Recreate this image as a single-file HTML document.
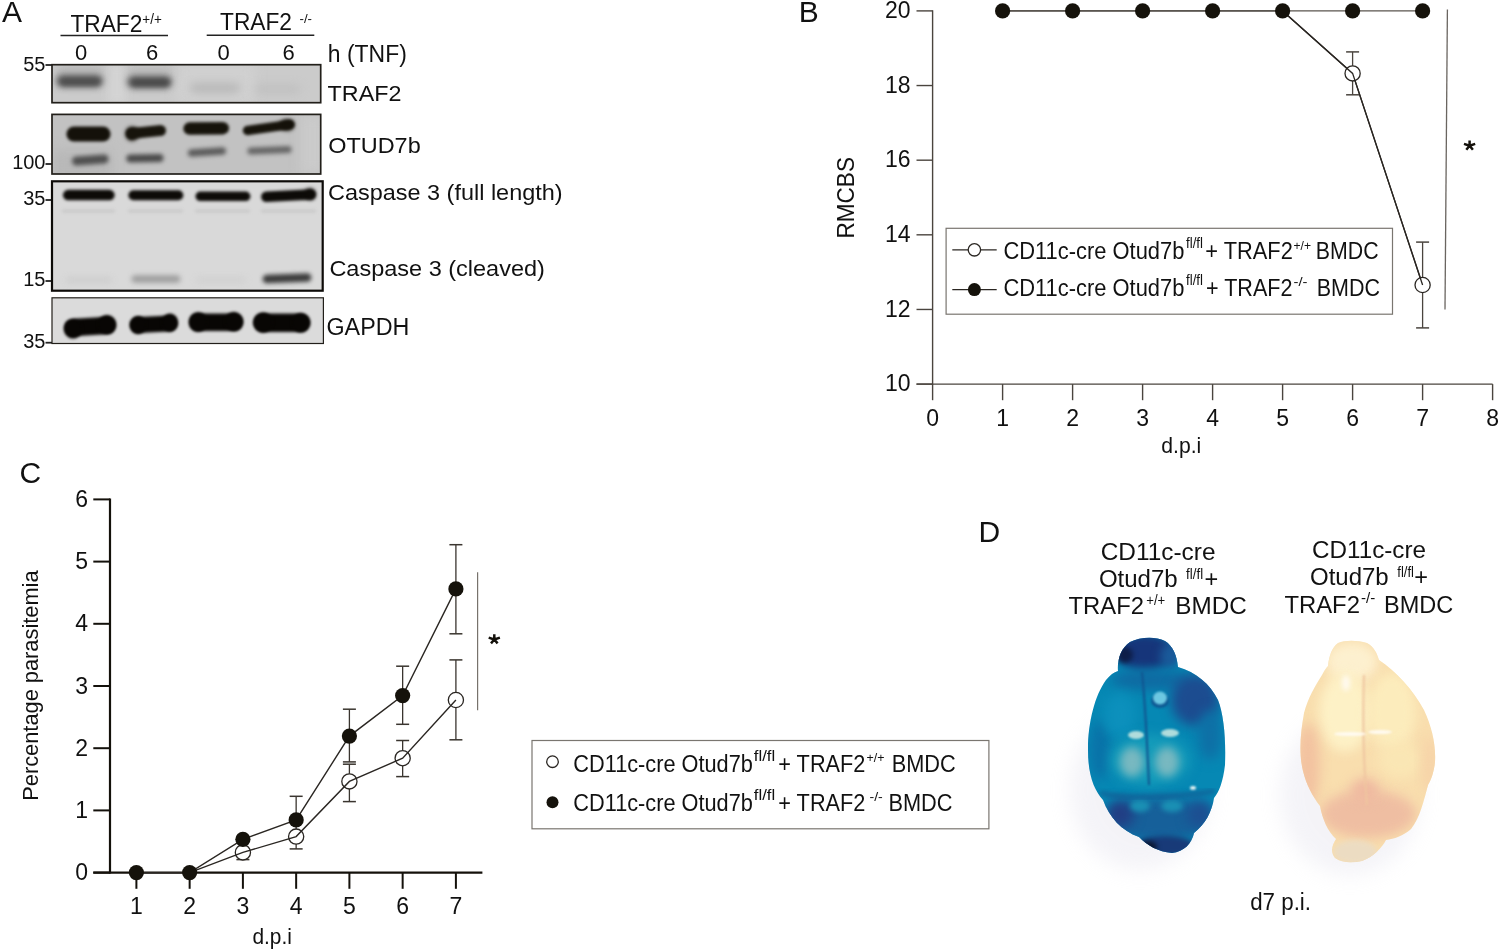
<!DOCTYPE html>
<html><head><meta charset="utf-8"><style>
html,body{margin:0;padding:0;background:#fff;width:1500px;height:951px;overflow:hidden}
svg{display:block;will-change:transform}
text{font-family:"Liberation Sans", sans-serif}
</style></head><body>
<svg width="1500" height="951" viewBox="0 0 1500 951">
<defs>
<filter id="b15" x="-50%" y="-100%" width="200%" height="300%" color-interpolation-filters="sRGB"><feGaussianBlur stdDeviation="1.5"/></filter>
<filter id="b20" x="-50%" y="-100%" width="200%" height="300%" color-interpolation-filters="sRGB"><feGaussianBlur stdDeviation="2.0"/></filter>
<filter id="b22" x="-50%" y="-100%" width="200%" height="300%" color-interpolation-filters="sRGB"><feGaussianBlur stdDeviation="2.2"/></filter>
<filter id="b23" x="-50%" y="-100%" width="200%" height="300%" color-interpolation-filters="sRGB"><feGaussianBlur stdDeviation="2.3"/></filter>
<filter id="b25" x="-50%" y="-100%" width="200%" height="300%" color-interpolation-filters="sRGB"><feGaussianBlur stdDeviation="2.5"/></filter>
<filter id="b30" x="-50%" y="-100%" width="200%" height="300%" color-interpolation-filters="sRGB"><feGaussianBlur stdDeviation="3.0"/></filter>
<filter id="b40" x="-50%" y="-100%" width="200%" height="300%" color-interpolation-filters="sRGB"><feGaussianBlur stdDeviation="4.0"/></filter>
<filter id="b60" x="-50%" y="-100%" width="200%" height="300%" color-interpolation-filters="sRGB"><feGaussianBlur stdDeviation="6.0"/></filter>
<clipPath id="c1"><rect x="52" y="64.7" width="268.7" height="38"/></clipPath>
<clipPath id="c2"><rect x="52" y="114.4" width="268.7" height="59.6"/></clipPath>
<clipPath id="c3"><rect x="52" y="181.3" width="270.7" height="109.4"/></clipPath>
<clipPath id="c4"><rect x="52" y="297.8" width="271.4" height="45.7"/></clipPath>
</defs>
<rect width="1500" height="951" fill="#fff"/>
<text x="2" y="22.4" font-size="30" text-anchor="start" fill="#111" >A</text>
<text x="70.4" y="32.4" font-size="23" text-anchor="start" fill="#111" textLength="72" lengthAdjust="spacingAndGlyphs" >TRAF2</text>
<text x="142.3" y="24" font-size="14" text-anchor="start" fill="#111" textLength="19.5" lengthAdjust="spacingAndGlyphs" >+/+</text>
<line x1="60.5" y1="35.5" x2="168" y2="35.5" stroke="#222" stroke-width="1.6"/>
<text x="220" y="29.8" font-size="23" text-anchor="start" fill="#111" textLength="72" lengthAdjust="spacingAndGlyphs" >TRAF2</text>
<text x="299.5" y="22.5" font-size="13.5" text-anchor="start" fill="#111" textLength="12.5" lengthAdjust="spacingAndGlyphs" >-/-</text>
<line x1="206.7" y1="35.3" x2="314.3" y2="35.3" stroke="#222" stroke-width="1.6"/>
<text x="81" y="59.5" font-size="22" text-anchor="middle" fill="#111" >0</text>
<text x="152" y="59.5" font-size="22" text-anchor="middle" fill="#111" >6</text>
<text x="223.7" y="59.5" font-size="22" text-anchor="middle" fill="#111" >0</text>
<text x="288.5" y="59.5" font-size="22" text-anchor="middle" fill="#111" >6</text>
<text x="327.8" y="61.5" font-size="23" text-anchor="start" fill="#111" textLength="79" lengthAdjust="spacingAndGlyphs" >h (TNF)</text>
<text x="45.5" y="71" font-size="20" text-anchor="end" fill="#111" >55</text>
<line x1="45.5" y1="65" x2="52" y2="65" stroke="#222" stroke-width="1.8"/>
<text x="45.5" y="168.7" font-size="20" text-anchor="end" fill="#111" >100</text>
<line x1="45.5" y1="164" x2="52" y2="164" stroke="#222" stroke-width="1.8"/>
<text x="45.5" y="205" font-size="20" text-anchor="end" fill="#111" >35</text>
<line x1="45.5" y1="200" x2="52" y2="200" stroke="#222" stroke-width="1.8"/>
<text x="45.5" y="286" font-size="20" text-anchor="end" fill="#111" >15</text>
<line x1="45.5" y1="281" x2="52" y2="281" stroke="#222" stroke-width="1.8"/>
<text x="45.5" y="347.5" font-size="20" text-anchor="end" fill="#111" >35</text>
<line x1="45.5" y1="342.7" x2="52" y2="342.7" stroke="#222" stroke-width="1.8"/>
<g clip-path="url(#c1)">
<rect x="52" y="64.7" width="268.7" height="38" fill="#cbcbcb"/>
<rect x="108" y="64" width="18" height="40" fill="#d4d4d4" filter="url(#b40)"/>
<rect x="176" y="64" width="80" height="40" fill="#d0d0d0" filter="url(#b60)"/>
<rect x="57" y="62" width="46" height="22" fill="#b9b9b9" opacity="0.8" filter="url(#b40)"/>
<rect x="128" y="62" width="44" height="22" fill="#bcbcbc" opacity="0.8" filter="url(#b40)"/>
<path d="M62.5,74.5 L96.5,74.5 A6.5,6.5 0 0 1 96.5,87.5 L62.5,87.5 A6.5,6.5 0 0 1 62.5,74.5 Z" fill="#6a6a6a" opacity="1" filter="url(#b30)"/>
<path d="M63.5,78.0 L96.5,78.0 A3.5,3.5 0 0 1 96.5,85.0 L63.5,85.0 A3.5,3.5 0 0 1 63.5,78.0 Z" fill="#4c4c4c" opacity="1" filter="url(#b25)"/>
<path d="M133.5,75.5 L165.5,75.5 A6.5,6.5 0 0 1 165.5,88.5 L133.5,88.5 A6.5,6.5 0 0 1 133.5,75.5 Z" fill="#686868" opacity="1" filter="url(#b30)"/>
<path d="M134.5,79.0 L165.5,79.0 A3.5,3.5 0 0 1 165.5,86.0 L134.5,86.0 A3.5,3.5 0 0 1 134.5,79.0 Z" fill="#484848" opacity="1" filter="url(#b25)"/>
<path d="M195.0,83.0 L235.0,83.0 A5.0,5.0 0 0 1 235.0,93.0 L195.0,93.0 A5.0,5.0 0 0 1 195.0,83.0 Z" fill="#b8b8b8" opacity="1" filter="url(#b40)"/>
<path d="M259.5,84.5 L295.5,84.5 A4.5,4.5 0 0 1 295.5,93.5 L259.5,93.5 A4.5,4.5 0 0 1 259.5,84.5 Z" fill="#c0c0c0" opacity="1" filter="url(#b40)"/>
</g>
<rect x="52" y="64.7" width="268.7" height="38" fill="none" stroke="#221f1a" stroke-width="1.7"/>
<g clip-path="url(#c2)">
<rect x="52" y="114.4" width="268.7" height="59.6" fill="#c2c2c2"/>
<rect x="52" y="150" width="60" height="30" fill="#b8b8b8" filter="url(#b60)"/>
<rect x="300" y="114" width="25" height="60" fill="#cacaca" filter="url(#b60)"/>
<path d="M73.9,126.5 L103.1,126.5 A7.5,7.5 0 0 1 103.1,141.5 L73.9,141.5 A7.5,7.5 0 0 1 73.9,126.5 Z" fill="#14110a" opacity="1" filter="url(#b15)"/>
<ellipse cx="132" cy="133.7" rx="6.5" ry="7" fill="#14110a" filter="url(#b20)"/>
<path d="M131.5,128.0 L160.5,125.0 A5.5,5.5 0 0 1 160.5,136.0 L131.5,139.0 A5.5,5.5 0 0 1 131.5,128.0 Z" fill="#17140c" opacity="1" filter="url(#b15)"/>
<path d="M189.55,122.35 L222.75,121.94999999999999 A6.25,6.25 0 0 1 222.75,134.45 L189.55,134.85 A6.25,6.25 0 0 1 189.55,122.35 Z" fill="#16130b" opacity="1" filter="url(#b15)"/>
<path d="M247.55,125.75 L289.85,119.75 A4.75,4.75 0 0 1 289.85,129.25 L247.55,135.25 A4.75,4.75 0 0 1 247.55,125.75 Z" fill="#16130b" opacity="1" filter="url(#b15)"/>
<ellipse cx="287" cy="125" rx="7" ry="5.5" fill="#14110a" filter="url(#b20)"/>
<path d="M76.5,156.5 L104.1,154.5 A4.5,4.5 0 0 1 104.1,163.5 L76.5,165.5 A4.5,4.5 0 0 1 76.5,156.5 Z" fill="#505050" opacity="1" filter="url(#b22)"/>
<path d="M130.3,154.6 L159.5,154.0 A4.0,4.0 0 0 1 159.5,162.0 L130.3,162.6 A4.0,4.0 0 0 1 130.3,154.6 Z" fill="#4a4a4a" opacity="1" filter="url(#b22)"/>
<path d="M191.65,149.25 L222.25,147.25 A3.75,3.75 0 0 1 222.25,154.75 L191.65,156.75 A3.75,3.75 0 0 1 191.65,149.25 Z" fill="#5c5c5c" opacity="1" filter="url(#b22)"/>
<path d="M250.9,147.5 L288.1,146.0 A3.5,3.5 0 0 1 288.1,153.0 L250.9,154.5 A3.5,3.5 0 0 1 250.9,147.5 Z" fill="#666" opacity="1" filter="url(#b22)"/>
</g>
<rect x="52" y="114.4" width="268.7" height="59.6" fill="none" stroke="#221f1a" stroke-width="1.7"/>
<g clip-path="url(#c3)">
<rect x="52" y="181.3" width="270.7" height="109.4" fill="#d9d9d9"/>
<path d="M68.15,189.85 L109.45,189.85 A5.25,5.25 0 0 1 109.45,200.35 L68.15,200.35 A5.25,5.25 0 0 1 68.15,189.85 Z" fill="#0d0b08" opacity="1" filter="url(#b15)"/>
<path d="M133.4,190.3 L178.3,190.3 A5.0,5.0 0 0 1 178.3,200.3 L133.4,200.3 A5.0,5.0 0 0 1 133.4,190.3 Z" fill="#0d0b08" opacity="1" filter="url(#b15)"/>
<path d="M200.25,191.55 L245.65,191.55 A4.75,4.75 0 0 1 245.65,201.05 L200.25,201.05 A4.75,4.75 0 0 1 200.25,191.55 Z" fill="#0d0b08" opacity="1" filter="url(#b15)"/>
<path d="M266.35,191.55 L310.75,189.25 A5.25,5.25 0 0 1 310.75,199.75 L266.35,202.05 A5.25,5.25 0 0 1 266.35,191.55 Z" fill="#0d0b08" opacity="1" filter="url(#b15)"/>
<ellipse cx="310" cy="194" rx="5" ry="5.5" fill="#0d0b08" filter="url(#b20)"/>
<path d="M63.5,209.5 L113.5,209.5 A1.5,1.5 0 0 1 113.5,212.5 L63.5,212.5 A1.5,1.5 0 0 1 63.5,209.5 Z" fill="#c8c8c8" opacity="1" filter="url(#b15)"/>
<path d="M129.5,209.5 L181.5,209.5 A1.5,1.5 0 0 1 181.5,212.5 L129.5,212.5 A1.5,1.5 0 0 1 129.5,209.5 Z" fill="#c8c8c8" opacity="1" filter="url(#b15)"/>
<path d="M196.5,209.5 L248.5,209.5 A1.5,1.5 0 0 1 248.5,212.5 L196.5,212.5 A1.5,1.5 0 0 1 196.5,209.5 Z" fill="#c8c8c8" opacity="1" filter="url(#b15)"/>
<path d="M262.5,209.5 L314.5,209.5 A1.5,1.5 0 0 1 314.5,212.5 L262.5,212.5 A1.5,1.5 0 0 1 262.5,209.5 Z" fill="#c8c8c8" opacity="1" filter="url(#b15)"/>
<path d="M135.25,275.25 L176.55,275.25 A3.75,3.75 0 0 1 176.55,282.75 L135.25,282.75 A3.75,3.75 0 0 1 135.25,275.25 Z" fill="#9e9e9e" opacity="1" filter="url(#b25)"/>
<path d="M266.85,274.75 L307.15,273.25 A4.25,4.25 0 0 1 307.15,281.75 L266.85,283.25 A4.25,4.25 0 0 1 266.85,274.75 Z" fill="#3c3c3c" opacity="1" filter="url(#b23)"/>
<path d="M69.0,277.0 L109.0,277.0 A3.0,3.0 0 0 1 109.0,283.0 L69.0,283.0 A3.0,3.0 0 0 1 69.0,277.0 Z" fill="#cdcdcd" opacity="1" filter="url(#b30)"/>
<path d="M199.0,277.0 L243.0,277.0 A3.0,3.0 0 0 1 243.0,283.0 L199.0,283.0 A3.0,3.0 0 0 1 199.0,277.0 Z" fill="#d0d0d0" opacity="1" filter="url(#b30)"/>
</g>
<rect x="52" y="181.3" width="270.7" height="109.4" fill="none" stroke="#0d0b08" stroke-width="2.2"/>
<g clip-path="url(#c4)">
<rect x="52" y="297.8" width="271.4" height="45.7" fill="#dbdbdb"/>
<path d="M73.15,318.75 L106.85,316.75 A8.75,8.75 0 0 1 106.85,334.25 L73.15,336.25 A8.75,8.75 0 0 1 73.15,318.75 Z" fill="#080604" opacity="1" filter="url(#b15)"/>
<path d="M138.0,317.0 L169.2,315.5 A8.0,8.0 0 0 1 169.2,331.5 L138.0,333.0 A8.0,8.0 0 0 1 138.0,317.0 Z" fill="#080604" opacity="1" filter="url(#b15)"/>
<path d="M198.15,313.55 L234.05,313.55 A8.75,8.75 0 0 1 234.05,331.05 L198.15,331.05 A8.75,8.75 0 0 1 198.15,313.55 Z" fill="#080604" opacity="1" filter="url(#b15)"/>
<path d="M262.75,313.55 L300.65,313.55 A9.25,9.25 0 0 1 300.65,332.05 L262.75,332.05 A9.25,9.25 0 0 1 262.75,313.55 Z" fill="#080604" opacity="1" filter="url(#b15)"/>
<ellipse cx="73" cy="329" rx="9" ry="9.5" fill="#080604" filter="url(#b15)"/>
<ellipse cx="107" cy="324.5" rx="9" ry="9.5" fill="#080604" filter="url(#b15)"/>
<ellipse cx="138" cy="325" rx="8" ry="9" fill="#080604" filter="url(#b15)"/>
<ellipse cx="170" cy="322.5" rx="8" ry="9" fill="#080604" filter="url(#b15)"/>
<ellipse cx="198" cy="322" rx="9" ry="9.8" fill="#080604" filter="url(#b15)"/>
<ellipse cx="234" cy="321.5" rx="9" ry="9.5" fill="#080604" filter="url(#b15)"/>
<ellipse cx="263" cy="322.5" rx="9.5" ry="10" fill="#080604" filter="url(#b15)"/>
<ellipse cx="301" cy="322.8" rx="9" ry="9.5" fill="#080604" filter="url(#b15)"/>
</g>
<rect x="52" y="297.8" width="271.4" height="45.7" fill="none" stroke="#221f1a" stroke-width="1.2"/>
<text x="327.6" y="101" font-size="22.8" text-anchor="start" fill="#111" textLength="73.8" lengthAdjust="spacingAndGlyphs" >TRAF2</text>
<text x="328.2" y="153.4" font-size="22.5" text-anchor="start" fill="#111" textLength="92.5" lengthAdjust="spacingAndGlyphs" >OTUD7b</text>
<text x="328" y="199.7" font-size="22" text-anchor="start" fill="#111" textLength="234.6" lengthAdjust="spacingAndGlyphs" >Caspase 3 (full length)</text>
<text x="329.4" y="276.3" font-size="22" text-anchor="start" fill="#111" textLength="215.5" lengthAdjust="spacingAndGlyphs" >Caspase 3 (cleaved)</text>
<text x="326.5" y="334.6" font-size="23" text-anchor="start" fill="#111" textLength="82.8" lengthAdjust="spacingAndGlyphs" >GAPDH</text>
<text x="798.8" y="22.1" font-size="30" text-anchor="start" fill="#111" >B</text>
<line x1="932.6" y1="10.3" x2="932.6" y2="384.8" stroke="#4a443e" stroke-width="1.4"/>
<line x1="916.5" y1="384.1" x2="1492.6" y2="384.1" stroke="#4a443e" stroke-width="1.4"/>
<line x1="916.5" y1="384.09999999999997" x2="932.6" y2="384.09999999999997" stroke="#4a443e" stroke-width="1.4"/>
<text x="910.5" y="391.4" font-size="23" text-anchor="end" fill="#111" >10</text>
<line x1="916.5" y1="309.46" x2="932.6" y2="309.46" stroke="#4a443e" stroke-width="1.4"/>
<text x="910.5" y="316.76" font-size="23" text-anchor="end" fill="#111" >12</text>
<line x1="916.5" y1="234.82000000000002" x2="932.6" y2="234.82000000000002" stroke="#4a443e" stroke-width="1.4"/>
<text x="910.5" y="242.12000000000003" font-size="23" text-anchor="end" fill="#111" >14</text>
<line x1="916.5" y1="160.18" x2="932.6" y2="160.18" stroke="#4a443e" stroke-width="1.4"/>
<text x="910.5" y="167.48000000000002" font-size="23" text-anchor="end" fill="#111" >16</text>
<line x1="916.5" y1="85.54" x2="932.6" y2="85.54" stroke="#4a443e" stroke-width="1.4"/>
<text x="910.5" y="92.84" font-size="23" text-anchor="end" fill="#111" >18</text>
<line x1="916.5" y1="10.9" x2="932.6" y2="10.9" stroke="#4a443e" stroke-width="1.4"/>
<text x="910.5" y="18.2" font-size="23" text-anchor="end" fill="#111" >20</text>
<line x1="932.6" y1="384.1" x2="932.6" y2="400.2" stroke="#4a443e" stroke-width="1.4"/>
<text x="932.6" y="425.6" font-size="23" text-anchor="middle" fill="#111" >0</text>
<line x1="1002.6" y1="384.1" x2="1002.6" y2="400.2" stroke="#4a443e" stroke-width="1.4"/>
<text x="1002.6" y="425.6" font-size="23" text-anchor="middle" fill="#111" >1</text>
<line x1="1072.6" y1="384.1" x2="1072.6" y2="400.2" stroke="#4a443e" stroke-width="1.4"/>
<text x="1072.6" y="425.6" font-size="23" text-anchor="middle" fill="#111" >2</text>
<line x1="1142.6" y1="384.1" x2="1142.6" y2="400.2" stroke="#4a443e" stroke-width="1.4"/>
<text x="1142.6" y="425.6" font-size="23" text-anchor="middle" fill="#111" >3</text>
<line x1="1212.6" y1="384.1" x2="1212.6" y2="400.2" stroke="#4a443e" stroke-width="1.4"/>
<text x="1212.6" y="425.6" font-size="23" text-anchor="middle" fill="#111" >4</text>
<line x1="1282.6" y1="384.1" x2="1282.6" y2="400.2" stroke="#4a443e" stroke-width="1.4"/>
<text x="1282.6" y="425.6" font-size="23" text-anchor="middle" fill="#111" >5</text>
<line x1="1352.6" y1="384.1" x2="1352.6" y2="400.2" stroke="#4a443e" stroke-width="1.4"/>
<text x="1352.6" y="425.6" font-size="23" text-anchor="middle" fill="#111" >6</text>
<line x1="1422.6" y1="384.1" x2="1422.6" y2="400.2" stroke="#4a443e" stroke-width="1.4"/>
<text x="1422.6" y="425.6" font-size="23" text-anchor="middle" fill="#111" >7</text>
<line x1="1492.6" y1="384.1" x2="1492.6" y2="400.2" stroke="#4a443e" stroke-width="1.4"/>
<text x="1492.6" y="425.6" font-size="23" text-anchor="middle" fill="#111" >8</text>
<text x="1161.3" y="452.5" font-size="22" text-anchor="start" fill="#111" textLength="40" lengthAdjust="spacingAndGlyphs" >d.p.i</text>
<text x="0" y="0" font-size="24" transform="translate(854 197.8) rotate(-90)" text-anchor="middle" fill="#111" textLength="81.6" lengthAdjust="spacingAndGlyphs">RMCBS</text>
<polyline points="1002.6,10.9 1282.6,10.9 1352.6,73.4 1422.6,285" fill="none" stroke="#2a2622" stroke-width="1.3"/>
<line x1="1002.6" y1="10.9" x2="1422.6" y2="10.9" stroke="#5a544e" stroke-width="1.4"/>
<line x1="1352.6" y1="51.9" x2="1352.6" y2="94.8" stroke="#4a443e" stroke-width="1.3"/>
<line x1="1346.1" y1="51.9" x2="1359.1" y2="51.9" stroke="#4a443e" stroke-width="1.5"/>
<line x1="1346.1" y1="94.8" x2="1359.1" y2="94.8" stroke="#4a443e" stroke-width="1.5"/>
<line x1="1422.6" y1="242.1" x2="1422.6" y2="327.9" stroke="#4a443e" stroke-width="1.3"/>
<line x1="1416.1" y1="242.1" x2="1429.1" y2="242.1" stroke="#4a443e" stroke-width="1.5"/>
<line x1="1416.1" y1="327.9" x2="1429.1" y2="327.9" stroke="#4a443e" stroke-width="1.5"/>
<circle cx="1352.6" cy="73.4" r="7.6" fill="#fff" stroke="#2a2622" stroke-width="1.3"/>
<circle cx="1422.6" cy="285" r="7.6" fill="#fff" stroke="#2a2622" stroke-width="1.3"/>
<polyline points="1282.6,10.9 1352.6,73.4 1422.6,285" fill="none" stroke="#2a2622" stroke-width="1.3"/>
<circle cx="1002.6" cy="10.9" r="7.6" fill="#15120b"/>
<circle cx="1072.6" cy="10.9" r="7.6" fill="#15120b"/>
<circle cx="1142.6" cy="10.9" r="7.6" fill="#15120b"/>
<circle cx="1212.6" cy="10.9" r="7.6" fill="#15120b"/>
<circle cx="1282.6" cy="10.9" r="7.6" fill="#15120b"/>
<circle cx="1352.6" cy="10.9" r="7.6" fill="#15120b"/>
<circle cx="1422.6" cy="10.9" r="7.6" fill="#15120b"/>
<line x1="1447.4" y1="9.6" x2="1445" y2="309.6" stroke="#6a6560" stroke-width="1.3"/>
<path d="M1469.6,145.8 L1469.60,140.60 M1469.6,145.8 L1464.00,143.90 M1469.6,145.8 L1475.20,143.90 M1469.6,145.8 L1466.30,149.70 M1469.6,145.8 L1472.90,149.70 " stroke="#14110b" stroke-width="2.5" stroke-linecap="butt" fill="none"/>
<rect x="946.1" y="228.3" width="446.4" height="85.9" fill="#fff" stroke="#7a7670" stroke-width="1.2"/>
<line x1="952.3" y1="249.8" x2="996.7" y2="249.8" stroke="#2a2622" stroke-width="1.3"/>
<circle cx="974.4" cy="249.8" r="6.2" fill="#fff" stroke="#2a2622" stroke-width="1.3"/>
<line x1="952.3" y1="289.6" x2="996.7" y2="289.6" stroke="#2a2622" stroke-width="1.3"/>
<circle cx="974.4" cy="289.6" r="6.5" fill="#15120b"/>
<text x="1003.4" y="259" font-size="23" text-anchor="start" fill="#111" textLength="181" lengthAdjust="spacingAndGlyphs" >CD11c-cre Otud7b</text>
<text x="1186" y="248" font-size="14" text-anchor="start" fill="#111" textLength="17" lengthAdjust="spacingAndGlyphs" >fl/fl</text>
<text x="1205.3" y="259" font-size="23" text-anchor="start" fill="#111" textLength="87.5" lengthAdjust="spacingAndGlyphs" >+ TRAF2</text>
<text x="1293.5" y="249.5" font-size="13.5" text-anchor="start" fill="#111" textLength="17.5" lengthAdjust="spacingAndGlyphs" >+/+</text>
<text x="1315.8" y="259" font-size="23" text-anchor="start" fill="#111" textLength="62.8" lengthAdjust="spacingAndGlyphs" >BMDC</text>
<text x="1003.4" y="295.8" font-size="23" text-anchor="start" fill="#111" textLength="181" lengthAdjust="spacingAndGlyphs" >CD11c-cre Otud7b</text>
<text x="1186" y="284.8" font-size="14" text-anchor="start" fill="#111" textLength="17" lengthAdjust="spacingAndGlyphs" >fl/fl</text>
<text x="1206" y="295.8" font-size="23" text-anchor="start" fill="#111" textLength="86.5" lengthAdjust="spacingAndGlyphs" >+ TRAF2</text>
<text x="1293.5" y="286.3" font-size="13.5" text-anchor="start" fill="#111" textLength="14" lengthAdjust="spacingAndGlyphs" >-/-</text>
<text x="1316.7" y="295.8" font-size="23" text-anchor="start" fill="#111" textLength="63.3" lengthAdjust="spacingAndGlyphs" >BMDC</text>
<text x="19.5" y="482.5" font-size="30" text-anchor="start" fill="#111" >C</text>
<line x1="110" y1="498.5" x2="110" y2="873.6" stroke="#14110b" stroke-width="2.2"/>
<line x1="93.3" y1="872.6" x2="482.4" y2="872.6" stroke="#14110b" stroke-width="2.2"/>
<line x1="93.3" y1="872.6" x2="110" y2="872.6" stroke="#14110b" stroke-width="2.0"/>
<text x="88" y="880.2" font-size="23" text-anchor="end" fill="#111" >0</text>
<line x1="93.3" y1="810.4" x2="110" y2="810.4" stroke="#14110b" stroke-width="2.0"/>
<text x="88" y="818.0" font-size="23" text-anchor="end" fill="#111" >1</text>
<line x1="93.3" y1="748.2" x2="110" y2="748.2" stroke="#14110b" stroke-width="2.0"/>
<text x="88" y="755.8000000000001" font-size="23" text-anchor="end" fill="#111" >2</text>
<line x1="93.3" y1="686.0" x2="110" y2="686.0" stroke="#14110b" stroke-width="2.0"/>
<text x="88" y="693.6" font-size="23" text-anchor="end" fill="#111" >3</text>
<line x1="93.3" y1="623.8" x2="110" y2="623.8" stroke="#14110b" stroke-width="2.0"/>
<text x="88" y="631.4" font-size="23" text-anchor="end" fill="#111" >4</text>
<line x1="93.3" y1="561.6" x2="110" y2="561.6" stroke="#14110b" stroke-width="2.0"/>
<text x="88" y="569.2" font-size="23" text-anchor="end" fill="#111" >5</text>
<line x1="93.3" y1="499.4" x2="110" y2="499.4" stroke="#14110b" stroke-width="2.0"/>
<text x="88" y="507.0" font-size="23" text-anchor="end" fill="#111" >6</text>
<line x1="136.4" y1="872.6" x2="136.4" y2="888.8" stroke="#14110b" stroke-width="2.0"/>
<text x="136.4" y="913.6" font-size="23" text-anchor="middle" fill="#111" >1</text>
<line x1="189.65" y1="872.6" x2="189.65" y2="888.8" stroke="#14110b" stroke-width="2.0"/>
<text x="189.65" y="913.6" font-size="23" text-anchor="middle" fill="#111" >2</text>
<line x1="242.9" y1="872.6" x2="242.9" y2="888.8" stroke="#14110b" stroke-width="2.0"/>
<text x="242.9" y="913.6" font-size="23" text-anchor="middle" fill="#111" >3</text>
<line x1="296.15" y1="872.6" x2="296.15" y2="888.8" stroke="#14110b" stroke-width="2.0"/>
<text x="296.15" y="913.6" font-size="23" text-anchor="middle" fill="#111" >4</text>
<line x1="349.4" y1="872.6" x2="349.4" y2="888.8" stroke="#14110b" stroke-width="2.0"/>
<text x="349.4" y="913.6" font-size="23" text-anchor="middle" fill="#111" >5</text>
<line x1="402.65" y1="872.6" x2="402.65" y2="888.8" stroke="#14110b" stroke-width="2.0"/>
<text x="402.65" y="913.6" font-size="23" text-anchor="middle" fill="#111" >6</text>
<line x1="455.9" y1="872.6" x2="455.9" y2="888.8" stroke="#14110b" stroke-width="2.0"/>
<text x="455.9" y="913.6" font-size="23" text-anchor="middle" fill="#111" >7</text>
<text x="252.4" y="943.6" font-size="22" text-anchor="start" fill="#111" textLength="39.5" lengthAdjust="spacingAndGlyphs" >d.p.i</text>
<text x="0" y="0" font-size="22" transform="translate(37.6 685.6) rotate(-90)" text-anchor="middle" fill="#111" textLength="230.3" lengthAdjust="spacingAndGlyphs">Percentage parasitemia</text>
<line x1="242.9" y1="852" x2="242.9" y2="859.6" stroke="#3a352f" stroke-width="1.3"/>
<line x1="236.4" y1="852" x2="249.4" y2="852" stroke="#3a352f" stroke-width="1.5"/>
<line x1="236.4" y1="859.6" x2="249.4" y2="859.6" stroke="#3a352f" stroke-width="1.5"/>
<line x1="296.15" y1="796.3" x2="296.15" y2="848.9" stroke="#3a352f" stroke-width="1.3"/>
<line x1="289.65" y1="796.3" x2="302.65" y2="796.3" stroke="#3a352f" stroke-width="1.5"/>
<line x1="289.65" y1="848.9" x2="302.65" y2="848.9" stroke="#3a352f" stroke-width="1.5"/>
<line x1="349.4" y1="709.2" x2="349.4" y2="761.9" stroke="#3a352f" stroke-width="1.3"/>
<line x1="342.9" y1="709.2" x2="355.9" y2="709.2" stroke="#3a352f" stroke-width="1.5"/>
<line x1="342.9" y1="761.9" x2="355.9" y2="761.9" stroke="#3a352f" stroke-width="1.5"/>
<line x1="349.4" y1="764.2" x2="349.4" y2="801.6" stroke="#3a352f" stroke-width="1.3"/>
<line x1="342.9" y1="764.2" x2="355.9" y2="764.2" stroke="#3a352f" stroke-width="1.5"/>
<line x1="342.9" y1="801.6" x2="355.9" y2="801.6" stroke="#3a352f" stroke-width="1.5"/>
<line x1="402.65" y1="666.2" x2="402.65" y2="724.3" stroke="#3a352f" stroke-width="1.3"/>
<line x1="396.15" y1="666.2" x2="409.15" y2="666.2" stroke="#3a352f" stroke-width="1.5"/>
<line x1="396.15" y1="724.3" x2="409.15" y2="724.3" stroke="#3a352f" stroke-width="1.5"/>
<line x1="402.65" y1="740.5" x2="402.65" y2="776.6" stroke="#3a352f" stroke-width="1.3"/>
<line x1="396.15" y1="740.5" x2="409.15" y2="740.5" stroke="#3a352f" stroke-width="1.5"/>
<line x1="396.15" y1="776.6" x2="409.15" y2="776.6" stroke="#3a352f" stroke-width="1.5"/>
<line x1="455.9" y1="544.7" x2="455.9" y2="633.8" stroke="#3a352f" stroke-width="1.3"/>
<line x1="449.4" y1="544.7" x2="462.4" y2="544.7" stroke="#3a352f" stroke-width="1.5"/>
<line x1="449.4" y1="633.8" x2="462.4" y2="633.8" stroke="#3a352f" stroke-width="1.5"/>
<line x1="455.9" y1="659.9" x2="455.9" y2="739.8" stroke="#3a352f" stroke-width="1.3"/>
<line x1="449.4" y1="659.9" x2="462.4" y2="659.9" stroke="#3a352f" stroke-width="1.5"/>
<line x1="449.4" y1="739.8" x2="462.4" y2="739.8" stroke="#3a352f" stroke-width="1.5"/>
<circle cx="242.9" cy="852.4" r="7.6" fill="#fff" stroke="#2a2622" stroke-width="1.3"/>
<circle cx="296.15" cy="836.6" r="7.6" fill="#fff" stroke="#2a2622" stroke-width="1.3"/>
<circle cx="349.4" cy="781.4" r="7.6" fill="#fff" stroke="#2a2622" stroke-width="1.3"/>
<circle cx="402.65" cy="758.2" r="7.6" fill="#fff" stroke="#2a2622" stroke-width="1.3"/>
<circle cx="455.9" cy="700" r="7.6" fill="#fff" stroke="#2a2622" stroke-width="1.3"/>
<polyline points="136.4,872.6 189.65,872.6 242.9,852.4 296.15,836.6 349.4,781.4 402.65,758.2 455.9,700" fill="none" stroke="#2a2622" stroke-width="1.4"/>
<polyline points="136.4,872.6 189.65,872.6 242.9,839.3 296.15,819.9 349.4,736.1 402.65,695.6 455.9,588.9" fill="none" stroke="#2a2622" stroke-width="1.4"/>
<circle cx="136.4" cy="872.6" r="7.6" fill="#15120b"/>
<circle cx="189.65" cy="872.6" r="7.6" fill="#15120b"/>
<circle cx="242.9" cy="839.3" r="7.6" fill="#15120b"/>
<circle cx="296.15" cy="819.9" r="7.6" fill="#15120b"/>
<circle cx="349.4" cy="736.1" r="7.6" fill="#15120b"/>
<circle cx="402.65" cy="695.6" r="7.6" fill="#15120b"/>
<circle cx="455.9" cy="588.9" r="7.6" fill="#15120b"/>
<line x1="477.6" y1="572.3" x2="477.6" y2="710.3" stroke="#77726c" stroke-width="1.2"/>
<path d="M494.3,639.5 L494.30,634.30 M494.3,639.5 L488.70,637.60 M494.3,639.5 L499.90,637.60 M494.3,639.5 L491.00,643.40 M494.3,639.5 L497.60,643.40 " stroke="#14110b" stroke-width="2.5" stroke-linecap="butt" fill="none"/>
<rect x="532" y="740.5" width="456.9" height="88.3" fill="#fff" stroke="#7a7670" stroke-width="1.2"/>
<circle cx="552.5" cy="761.7" r="5.8" fill="#fff" stroke="#2a2622" stroke-width="1.3"/>
<circle cx="552.5" cy="802.2" r="6" fill="#15120b"/>
<text x="573.3" y="771.8" font-size="23" text-anchor="start" fill="#111" textLength="179.5" lengthAdjust="spacingAndGlyphs" >CD11c-cre Otud7b</text>
<text x="753.8" y="760.8" font-size="14" text-anchor="start" fill="#111" textLength="21.4" lengthAdjust="spacingAndGlyphs" >fl/fl</text>
<text x="778.3" y="771.8" font-size="23" text-anchor="start" fill="#111" textLength="87.1" lengthAdjust="spacingAndGlyphs" >+ TRAF2</text>
<text x="866.5" y="762.3" font-size="13.5" text-anchor="start" fill="#111" textLength="18" lengthAdjust="spacingAndGlyphs" >+/+</text>
<text x="891.7" y="771.8" font-size="23" text-anchor="start" fill="#111" textLength="64" lengthAdjust="spacingAndGlyphs" >BMDC</text>
<text x="573.3" y="810.7" font-size="23" text-anchor="start" fill="#111" textLength="179.5" lengthAdjust="spacingAndGlyphs" >CD11c-cre Otud7b</text>
<text x="753.8" y="799.7" font-size="14" text-anchor="start" fill="#111" textLength="21.4" lengthAdjust="spacingAndGlyphs" >fl/fl</text>
<text x="778.3" y="810.7" font-size="23" text-anchor="start" fill="#111" textLength="87.1" lengthAdjust="spacingAndGlyphs" >+ TRAF2</text>
<text x="869.5" y="801.2" font-size="13.5" text-anchor="start" fill="#111" textLength="13.3" lengthAdjust="spacingAndGlyphs" >-/-</text>
<text x="888.5" y="810.7" font-size="23" text-anchor="start" fill="#111" textLength="64" lengthAdjust="spacingAndGlyphs" >BMDC</text>
<text x="978.5" y="542.4" font-size="30" text-anchor="start" fill="#111" >D</text>
<text x="1158.1" y="559.5" font-size="23.5" text-anchor="middle" fill="#111" textLength="114.8" lengthAdjust="spacingAndGlyphs" >CD11c-cre</text>
<text x="1098.9" y="586.8" font-size="23.5" text-anchor="start" fill="#111" textLength="78.8" lengthAdjust="spacingAndGlyphs" >Otud7b</text>
<text x="1186.1" y="578.9" font-size="14" text-anchor="start" fill="#111" textLength="17" lengthAdjust="spacingAndGlyphs" >fl/fl</text>
<text x="1204.6" y="586.8" font-size="23.5" text-anchor="start" fill="#111" >+</text>
<text x="1068.5" y="614.3" font-size="23.5" text-anchor="start" fill="#111" textLength="75.5" lengthAdjust="spacingAndGlyphs" >TRAF2</text>
<text x="1146.3" y="604.5" font-size="14" text-anchor="start" fill="#111" textLength="19" lengthAdjust="spacingAndGlyphs" >+/+</text>
<text x="1175.3" y="614.3" font-size="23.5" text-anchor="start" fill="#111" textLength="71.5" lengthAdjust="spacingAndGlyphs" >BMDC</text>
<text x="1369" y="558" font-size="23.5" text-anchor="middle" fill="#111" textLength="114" lengthAdjust="spacingAndGlyphs" >CD11c-cre</text>
<text x="1310" y="585" font-size="23.5" text-anchor="start" fill="#111" textLength="78.7" lengthAdjust="spacingAndGlyphs" >Otud7b</text>
<text x="1397.3" y="577" font-size="14" text-anchor="start" fill="#111" textLength="16.7" lengthAdjust="spacingAndGlyphs" >fl/fl</text>
<text x="1414.2" y="585" font-size="23.5" text-anchor="start" fill="#111" >+</text>
<text x="1284.4" y="612.7" font-size="23.5" text-anchor="start" fill="#111" textLength="75.6" lengthAdjust="spacingAndGlyphs" >TRAF2</text>
<text x="1361" y="603" font-size="14" text-anchor="start" fill="#111" textLength="14.3" lengthAdjust="spacingAndGlyphs" >-/-</text>
<text x="1384" y="612.7" font-size="23.5" text-anchor="start" fill="#111" textLength="69.3" lengthAdjust="spacingAndGlyphs" >BMDC</text>
<text x="1250.2" y="909.6" font-size="23" text-anchor="start" fill="#111" textLength="60.8" lengthAdjust="spacingAndGlyphs" >d7 p.i.</text>
<defs>
<clipPath id="bb"><path d="M1118,671 C1117,660 1121,648 1130,642 C1140,637 1155,636 1165,641 C1173,646 1177,656 1178,667 C1196,672 1210,684 1218,700 C1224,715 1226,740 1225,765 C1223,782 1219,792 1214,798 C1212,812 1205,824 1194,833 C1192,843 1184,852 1172,853 C1158,852 1147,845 1139,837 C1122,831 1109,817 1103,800 C1094,790 1088,775 1088,750 C1088,722 1095,695 1106,680 C1110,675 1114,672 1118,671 Z"/></clipPath>
<clipPath id="cb"><path d="M1328,666 C1329,656 1332,647 1338,643 C1345,640 1357,640 1367,643 C1374,647 1377,653 1379,660 C1396,671 1413,690 1424,710 C1432,727 1436,745 1435,762 C1434,772 1431,780 1428,785 C1424,800 1420,818 1411,829 C1403,836 1394,839 1386,840 C1382,848 1373,857 1362,861 C1352,863 1342,863 1335,858 C1330,852 1332,845 1336,839 C1328,832 1322,818 1320,806 C1313,797 1306,784 1303,771 C1299,755 1300,735 1304,713 C1308,698 1315,686 1322,675 C1324,671 1326,668 1328,666 Z"/></clipPath>
<filter id="sb" x="-50%" y="-50%" width="200%" height="200%" color-interpolation-filters="sRGB"><feGaussianBlur stdDeviation="6"/></filter>
<filter id="sb4" x="-50%" y="-50%" width="200%" height="200%" color-interpolation-filters="sRGB"><feGaussianBlur stdDeviation="4"/></filter>
<filter id="sb3" x="-50%" y="-50%" width="200%" height="200%" color-interpolation-filters="sRGB"><feGaussianBlur stdDeviation="2.5"/></filter>
<filter id="sb12" x="-50%" y="-50%" width="200%" height="200%" color-interpolation-filters="sRGB"><feGaussianBlur stdDeviation="10"/></filter>
<filter id="sb1" x="-50%" y="-50%" width="200%" height="200%" color-interpolation-filters="sRGB"><feGaussianBlur stdDeviation="1"/></filter>
</defs>
<!-- shadows -->
<ellipse cx="1140" cy="790" rx="70" ry="80" fill="#dcdae8" opacity="0.3" filter="url(#sb12)"/>
<ellipse cx="1350" cy="795" rx="70" ry="80" fill="#dcdae8" opacity="0.3" filter="url(#sb12)"/>
<!-- blue brain -->
<g clip-path="url(#bb)">
<rect x="1080" y="630" width="150" height="230" fill="#0688b4"/>
<ellipse cx="1145" cy="652" rx="30" ry="18" fill="#16357a" filter="url(#sb4)"/>
<ellipse cx="1170" cy="656" rx="10" ry="12" fill="#1a5a9a" filter="url(#sb4)"/>
<ellipse cx="1125" cy="655" rx="8" ry="8" fill="#0e1e48" filter="url(#sb3)"/>
<ellipse cx="1150" cy="680" rx="40" ry="10" fill="#0f6aa2" filter="url(#sb)"/>
<ellipse cx="1195" cy="700" rx="24" ry="26" fill="#1c4c90" filter="url(#sb)"/>
<ellipse cx="1210" cy="735" rx="12" ry="25" fill="#0e70a6" filter="url(#sb)"/>
<ellipse cx="1100" cy="750" rx="10" ry="30" fill="#0a72a8" filter="url(#sb)"/>
<ellipse cx="1120" cy="715" rx="16" ry="22" fill="#0c90bc" filter="url(#sb)"/>
<ellipse cx="1150" cy="760" rx="40" ry="25" fill="#159cba" filter="url(#sb)"/>
<ellipse cx="1132" cy="762" rx="12" ry="15" fill="#78b8c0" filter="url(#sb4)"/>
<ellipse cx="1167" cy="762" rx="12" ry="15" fill="#78b8c0" filter="url(#sb4)"/>
<ellipse cx="1160" cy="820" rx="52" ry="22" fill="#16609a" filter="url(#sb)"/>
<ellipse cx="1120" cy="814" rx="14" ry="14" fill="#223e84" filter="url(#sb)"/>
<ellipse cx="1200" cy="814" rx="13" ry="14" fill="#1d4f92" filter="url(#sb)"/>
<ellipse cx="1140" cy="806" rx="10" ry="6" fill="#1a90b4" filter="url(#sb3)"/>
<ellipse cx="1172" cy="806" rx="11" ry="6" fill="#1a90b4" filter="url(#sb3)"/>
<ellipse cx="1165" cy="846" rx="30" ry="10" fill="#183a78" filter="url(#sb3)"/>
<ellipse cx="1148" cy="847" rx="9" ry="6" fill="#0a1630" filter="url(#sb3)"/>
<ellipse cx="1160" cy="701" rx="9" ry="7" fill="#0f5a94" filter="url(#sb1)"/>
<ellipse cx="1160" cy="698" rx="7" ry="6.5" fill="#6cc8e2" filter="url(#sb1)"/>
<ellipse cx="1136" cy="735" rx="8" ry="4" fill="#b0dcdc" filter="url(#sb1)"/>
<ellipse cx="1170" cy="733" rx="9" ry="4" fill="#b0dcdc" filter="url(#sb1)"/>
<ellipse cx="1193" cy="788" rx="3" ry="2" fill="#e6f4f4" filter="url(#sb1)"/>
<path d="M1142,672 C1145,700 1147,740 1149,785" stroke="#115590" stroke-width="2" fill="none" filter="url(#sb1)"/>
<path d="M1100,793 C1125,799 1175,798 1215,791" stroke="#15558f" stroke-width="3" fill="none" filter="url(#sb3)"/>
</g>
<!-- cream brain -->
<g clip-path="url(#cb)">
<rect x="1290" y="630" width="155" height="240" fill="#f9deae"/>
<ellipse cx="1352" cy="662" rx="26" ry="20" fill="#fdf0cf" filter="url(#sb)"/>
<ellipse cx="1345" cy="712" rx="26" ry="40" fill="#fdf1c6" filter="url(#sb)"/>
<ellipse cx="1392" cy="712" rx="24" ry="40" fill="#fcecbc" filter="url(#sb)"/>
<ellipse cx="1400" cy="760" rx="22" ry="18" fill="#fae6b4" filter="url(#sb)"/>
<ellipse cx="1308" cy="765" rx="12" ry="42" fill="#f2c2a0" filter="url(#sb)"/>
<ellipse cx="1430" cy="765" rx="8" ry="30" fill="#f6d3a8" filter="url(#sb)"/>
<ellipse cx="1368" cy="814" rx="48" ry="24" fill="#efbea2" filter="url(#sb)"/>
<ellipse cx="1365" cy="790" rx="14" ry="12" fill="#efb9a0" filter="url(#sb)"/>
<ellipse cx="1355" cy="852" rx="22" ry="12" fill="#ecdcc2" filter="url(#sb3)"/>
<path d="M1364,675 C1363,710 1363,760 1367,805" stroke="#efc6a0" stroke-width="2" fill="none" filter="url(#sb1)"/>
<ellipse cx="1346" cy="683" rx="4" ry="8" fill="#fffaf0" filter="url(#sb3)"/>
<ellipse cx="1350" cy="734" rx="16" ry="2" fill="#fffaf0" filter="url(#sb1)"/>
<ellipse cx="1380" cy="732" rx="12" ry="2" fill="#fffaf0" filter="url(#sb1)"/>
</g>

</svg>
</body></html>
